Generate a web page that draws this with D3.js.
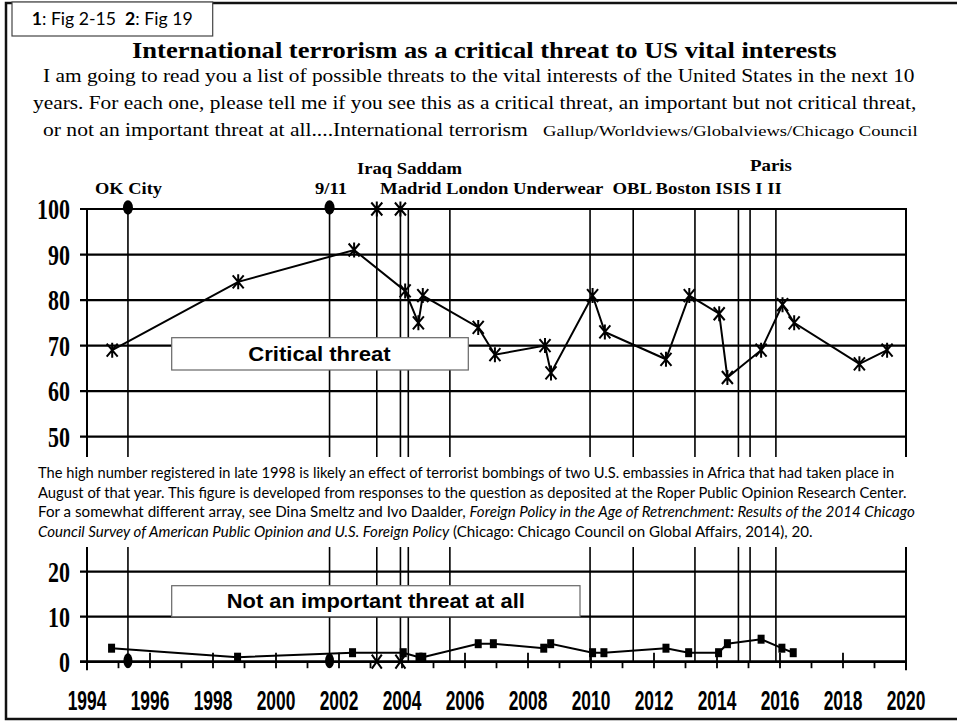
<!DOCTYPE html>
<html><head><meta charset="utf-8">
<script src="https://cdn.jsdelivr.net/npm/d3@7"></script>
<style>body{margin:0;background:#fff}svg{display:block}</style>
</head><body>
<svg id="chart" width="957" height="721"></svg>
<script>
// ---------- DATA ----------
const critYears  = [1994.8, 1998.8, 2002.48, 2004.1, 2004.52, 2004.66, 2006.42, 2006.95, 2008.54, 2008.73, 2010.05, 2010.44, 2012.38, 2013.12, 2014.07, 2014.33, 2015.4, 2016.08, 2016.45, 2018.52, 2019.4];
const critValues = [69, 84, 91, 82, 75, 81, 74, 68, 70, 64, 81, 73, 67, 81, 77, 63, 69, 79, 75, 66, 69];
const notYears   = [1994.78, 1998.78, 2002.43, 2004.04, 2004.54, 2004.66, 2006.42, 2006.9, 2008.5, 2008.72, 2010.05, 2010.41, 2012.38, 2013.1, 2014.05, 2014.33, 2015.4, 2016.06, 2016.42];
const notValues  = [3, 1, 2, 2, 1, 1, 4, 4, 3, 4, 2, 2, 3, 2, 2, 4, 5, 3, 2];
const eventNames = ["OK City", "9/11", "Iraq", "Saddam", "Madrid", "London", "Underwear", "OBL", "Boston", "ISIS", "Paris I", "Paris II"];
const eventYears = [1995.3, 2001.7, 2003.2, 2003.95, 2004.2, 2005.52, 2009.97, 2011.34, 2013.3, 2014.68, 2015.05, 2015.87];
const circleEvents = ["OK City", "9/11"];
const crossEvents  = ["Iraq", "Saddam"];
const xTickLabels  = ["1994","1996","1998","2000","2002","2004","2006","2008","2010","2012","2014","2016","2018","2020"];
const upperTickLabels = [50, 60, 70, 80, 90, 100];
const lowerTickLabels = [0, 10, 20];

const titleText = "International terrorism as a critical threat to US vital interests";
const subLines = [
  "I am going to read you a list of possible threats to the vital interests of the United States in the next 10",
  "years. For each one, please tell me if you see this as a critical threat, an important but not critical threat,",
  "or not an important threat at all....International terrorism"
];
const sourceText = "Gallup/Worldviews/Globalviews/Chicago Council";

// ---------- SETUP ----------
const svg = d3.select("#chart");
const serif = "'Liberation Serif','Times New Roman',serif";
const sans = "'Liberation Sans',Arial,sans-serif";
const narrow = "'Liberation Sans Narrow','Liberation Sans',Arial,sans-serif";
const calib = "Lato,'Open Sans',sans-serif";

const x = d3.scaleLinear().domain([1994, 2020]).range([87, 906]);
const yU = d3.scaleLinear().domain([50, 100]).range([436.7, 209]);
const yL = d3.scaleLinear().domain([0, 20]).range([661.7, 571.7]);
const upperBottom = 457, lowerTop = 547;

function fitText(parent, build, x0, x1, y) {
  const t = parent.append("text").attr("x", 0).attr("y", 0).style("white-space", "pre");
  build(t);
  const w = t.node().getComputedTextLength();
  t.attr("transform", `translate(${x0},${y}) scale(${(x1 - x0) / w},1)`);
  return t;
}
function simple(str, fam, size, weight, style) {
  return t => t.attr("font-family", fam).attr("font-size", size)
    .attr("font-weight", weight || "normal").attr("font-style", style || "normal").text(str);
}

// frame
svg.append("rect").attr("x", 6).attr("y", 3).attr("width", 960).attr("height", 716)
  .attr("fill", "#fff").attr("stroke", "#111").attr("stroke-width", 2.5);

// top-left box
svg.append("rect").attr("x", 12).attr("y", 2).attr("width", 200.7).attr("height", 34)
  .attr("fill", "#fff").attr("stroke", "#444").attr("stroke-width", 1.2);
fitText(svg, t => {
  t.attr("font-family", calib).attr("font-size", 17);
  t.append("tspan").attr("font-weight", "bold").text("1");
  t.append("tspan").text(": Fig 2-15  ");
  t.append("tspan").attr("font-weight", "bold").text("2");
  t.append("tspan").text(": Fig 19");
}, 31.7, 192.7, 25);

// title & subtitle
fitText(svg, simple(titleText, serif, 24, "bold"), 132, 837, 58);
fitText(svg, simple(subLines[0], serif, 19), 43, 915, 82);
fitText(svg, simple(subLines[1], serif, 19), 33, 917, 109);
fitText(svg, simple(subLines[2], serif, 19), 43, 528, 136);
fitText(svg, simple(sourceText, serif, 15), 543, 918, 136);

// event labels
fitText(svg, simple("OK City", serif, 17.5, "bold"), 95, 162, 194);
fitText(svg, simple("9/11", serif, 17.5, "bold"), 315, 347, 194);
fitText(svg, simple("Madrid London Underwear  OBL Boston ISIS I II", serif, 17.5, "bold"), 380, 782, 194);
fitText(svg, simple("Iraq Saddam", serif, 17, "bold"), 357, 462, 174);
fitText(svg, simple("Paris", serif, 17, "bold"), 750, 792, 171);

// ---------- UPPER PANEL ----------
const up = svg.append("g");
up.selectAll("line.h").data(upperTickLabels).join("line")
  .attr("x1", 80).attr("x2", 906).attr("y1", d => yU(d)).attr("y2", d => yU(d))
  .attr("stroke", "#000").attr("stroke-width", 2.2);
up.selectAll("line.ev").data(eventYears).join("line")
  .attr("x1", d => x(d)).attr("x2", d => x(d)).attr("y1", yU(100)).attr("y2", upperBottom)
  .attr("stroke", "#000").attr("stroke-width", 1.6);
[x(1994), x(2020)].forEach(px => up.append("line").attr("x1", px).attr("x2", px)
  .attr("y1", yU(100) - 1).attr("y2", upperBottom).attr("stroke", "#000").attr("stroke-width", 2));

// y labels
function yLabels(g, vals, scale) {
  const probe = g.append("text").attr("font-family", serif).attr("font-weight", "bold").attr("font-size", 29).text("100");
  const s = 33 / probe.node().getComputedTextLength();
  probe.remove();
  g.selectAll(null).data(vals).join("text")
    .attr("font-family", serif).attr("font-weight", "bold").attr("font-size", 29)
    .attr("text-anchor", "end")
    .attr("transform", d => `translate(70,${scale(d) + 10}) scale(${s},1)`)
    .text(d => d);
}
yLabels(up, upperTickLabels, yU);

// label box
up.append("rect").attr("x", 171.7).attr("y", 337.7).attr("width", 296.6).attr("height", 32.3)
  .attr("fill", "#fff").attr("stroke", "#666").attr("stroke-width", 1.2);
fitText(up, simple("Critical threat", sans, 20, "bold"), 248.3, 390.7, 361);

// data line
const critData = critYears.map((yr, i) => [yr, critValues[i]]);
up.append("path").datum(critData)
  .attr("d", d3.line().x(d => x(d[0])).y(d => yU(d[1])))
  .attr("fill", "none").attr("stroke", "#000").attr("stroke-width", 2);
function star(g, cx, cy) {
  const p = `M${cx - 5.5},${cy - 6.5}L${cx + 5.5},${cy + 6.5}M${cx + 5.5},${cy - 6.5}L${cx - 5.5},${cy + 6.5}M${cx},${cy - 7.5}L${cx},${cy + 7.5}`;
  g.append("path").attr("d", p).attr("stroke", "#000").attr("stroke-width", 2).attr("fill", "none");
}
critData.forEach(d => star(up, x(d[0]), yU(d[1])));

// event markers at 100
eventNames.forEach((n, i) => {
  if (circleEvents.includes(n)) up.append("ellipse").attr("cx", x(eventYears[i])).attr("cy", yU(100) - 1.5)
    .attr("rx", 5).attr("ry", 7.2).attr("fill", "#000");
  if (crossEvents.includes(n)) star(up, x(eventYears[i]), yU(100));
});

// ---------- FOOTNOTE ----------
const fn = svg.append("g");
fitText(fn, simple("The high number registered in late 1998 is likely an effect of terrorist bombings of two U.S. embassies in Africa that had taken place in", calib, 14.5), 38, 895, 478);
fitText(fn, simple("August of that year. This figure is developed from responses to the question as deposited at the Roper Public Opinion Research Center.", calib, 14.5), 38, 907, 497.5);
fitText(fn, t => {
  t.attr("font-family", calib).attr("font-size", 14.5);
  t.append("tspan").text("For a somewhat different array, see Dina Smeltz and Ivo Daalder, ");
  t.append("tspan").attr("font-style", "italic").text("Foreign Policy in the Age of Retrenchment: Results of the 2014 Chicago");
}, 38, 915, 517);
fitText(fn, t => {
  t.attr("font-family", calib).attr("font-size", 14.5);
  t.append("tspan").attr("font-style", "italic").text("Council Survey of American Public Opinion and U.S. Foreign Policy");
  t.append("tspan").text(" (Chicago: Chicago Council on Global Affairs, 2014), 20.");
}, 38, 813, 536.5);

// ---------- LOWER PANEL ----------
const lo = svg.append("g");
lo.selectAll("line.h").data([10, 20]).join("line")
  .attr("x1", 80).attr("x2", 906).attr("y1", d => yL(d)).attr("y2", d => yL(d))
  .attr("stroke", "#000").attr("stroke-width", 2.2);
lo.selectAll("line.ev").data(eventYears).join("line")
  .attr("x1", d => x(d)).attr("x2", d => x(d)).attr("y1", lowerTop).attr("y2", yL(0))
  .attr("stroke", "#000").attr("stroke-width", 1.6);
[x(1994), x(2020)].forEach(px => lo.append("line").attr("x1", px).attr("x2", px)
  .attr("y1", lowerTop).attr("y2", yL(0) + 8.5).attr("stroke", "#000").attr("stroke-width", 2));
// x ticks
const allYears = d3.range(1995, 2020);
lo.selectAll("line.tk").data(allYears).join("line")
  .attr("x1", d => x(d)).attr("x2", d => x(d))
  .attr("y1", d => d % 2 === 0 ? yL(0) - 9 : yL(0))
  .attr("y2", d => yL(0) + 6.5)
  .attr("stroke", "#000").attr("stroke-width", 1.8);
lo.append("line").attr("x1", 80).attr("x2", 906).attr("y1", yL(0)).attr("y2", yL(0))
  .attr("stroke", "#000").attr("stroke-width", 2.8);
yLabels(lo, lowerTickLabels, yL);

// x labels
(function () {
  const probe = lo.append("text").attr("font-family", narrow).attr("font-weight", "bold").attr("font-size", 28).text("1994");
  const s = 38.7 / probe.node().getComputedTextLength();
  probe.remove();
  lo.selectAll("text.xl").data(xTickLabels).join("text")
    .attr("font-family", narrow).attr("font-weight", "bold").attr("font-size", 28)
    .attr("text-anchor", "middle")
    .attr("transform", d => `translate(${x(+d)},710) scale(${s},1)`)
    .text(d => d);
})();

// label box
lo.append("rect").attr("x", 171.7).attr("y", 585.7).attr("width", 408.3).attr("height", 31)
  .attr("fill", "#fff").attr("stroke", "#666").attr("stroke-width", 1.2);
fitText(lo, simple("Not an important threat at all", sans, 20, "bold"), 226.7, 525, 608);

// data line
const notData = notYears.map((yr, i) => [yr, notValues[i]]);
lo.append("path").datum(notData)
  .attr("d", d3.line().x(d => x(d[0])).y(d => yL(d[1])))
  .attr("fill", "none").attr("stroke", "#000").attr("stroke-width", 2);
lo.selectAll("rect.sq").data(notData).join("rect")
  .attr("x", d => x(d[0]) - 3.5).attr("y", d => yL(d[1]) - 4.5)
  .attr("width", 7).attr("height", 9).attr("fill", "#000");

// event markers at 0
eventNames.forEach((n, i) => {
  const cx = x(eventYears[i]), cy = yL(0);
  if (circleEvents.includes(n)) lo.append("ellipse").attr("cx", cx).attr("cy", cy - 1)
    .attr("rx", 4.5).attr("ry", 7.5).attr("fill", "#000");
  if (crossEvents.includes(n)) lo.append("path")
    .attr("d", `M${cx - 5},${cy - 7}L${cx + 5},${cy + 7}M${cx + 5},${cy - 7}L${cx - 5},${cy + 7}`)
    .attr("stroke", "#000").attr("stroke-width", 2);
});
</script>
</body></html>
